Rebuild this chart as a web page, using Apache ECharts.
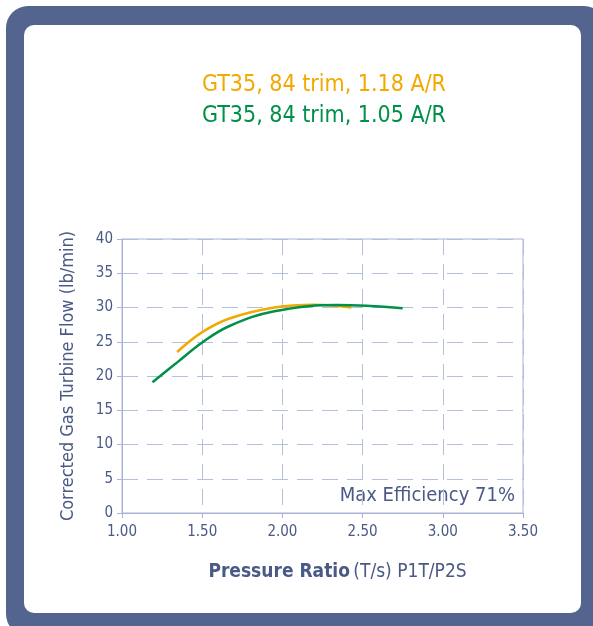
<!DOCTYPE html>
<html><head><meta charset="utf-8">
<script src="https://cdn.jsdelivr.net/npm/echarts@6/dist/echarts.min.js"></script>
<style>html,body{margin:0;padding:0;background:#fff}#c{width:593px;height:626px}</style>
</head><body><div id="c"></div>
<script>
const xTicks = [1.0, 1.5, 2.0, 2.5, 3.0, 3.5];
const yTicks = [0, 5, 10, 15, 20, 25, 30, 35, 40];
const seriesNames = ['GT35, 84 trim, 1.18 A/R', 'GT35, 84 trim, 1.05 A/R'];
const orangeX = [1.344, 1.5, 1.67, 1.95, 2.2, 2.43];
const orangeY = [23.5, 26.4, 28.4, 30.0, 30.4, 30.0];
const greenX = [1.19, 1.35, 1.5, 1.67, 1.95, 2.34, 2.75];
const greenY = [19.1, 22.1, 24.9, 27.3, 29.45, 30.35, 29.9];
const note = 'Max Efficiency 71%';

const FONT = '"DejaVu Sans Condensed","Liberation Sans Narrow","Roboto",sans-serif';
const TXT = '#4A5A85';
const chart = echarts.init(document.getElementById('c'), null, {renderer: 'canvas'});
const zip = (a, b) => a.map((v, i) => [v, b[i]]);
chart.setOption({
  animation: false,
  textStyle: {fontFamily: FONT},
  graphic: [
    {type: 'rect', z: -10, shape: {x: 6, y: 6, width: 600, height: 630, r: 22}, style: {fill: '#53648F'}},
    {type: 'rect', z: -9, shape: {x: 24, y: 25, width: 557, height: 588, r: 10}, style: {fill: '#ffffff'}},
    {type: 'text', left: 202, top: 74, style: {text: seriesNames[0], fill: '#F2A900', font: '23px ' + FONT}},
    {type: 'text', left: 202, top: 105, style: {text: seriesNames[1], fill: '#00904A', font: '23px ' + FONT}},
    {type: 'text', right: 78, top: 486, style: {text: note, fill: TXT, font: '20px ' + FONT}}
  ],
  grid: {left: 122, right: 70, top: 239, bottom: 113, show: true, borderColor: '#A9B4D6', borderWidth: 1},
  xAxis: {
    type: 'value', min: 1.0, max: 3.5, interval: 0.5,
    name: '{b|Pressure Ratio} {n|(T/s) P1T/P2S}', nameLocation: 'middle', nameGap: 50,
    nameTextStyle: {padding: [0, 0, 0, 30], rich: {b: {fontSize: 19, color: TXT, fontFamily: FONT, fontWeight: 'bold'}, n: {fontSize: 19, color: TXT, fontFamily: FONT}}},
    axisLine: {lineStyle: {color: '#A9B4D6', width: 1}},
    axisTick: {show: true, inside: false, length: 5, lineStyle: {color: '#A9B4D6'}},
    axisLabel: {color: TXT, fontSize: 15, fontFamily: FONT, margin: 12, formatter: v => v.toFixed(2)},
    splitLine: {show: true, lineStyle: {color: '#B4BEDD', type: [16, 9], width: 1}}
  },
  yAxis: {
    type: 'value', min: 0, max: 40, interval: 5,
    name: 'Corrected Gas Turbine Flow (lb/min)', nameLocation: 'middle', nameGap: 45,
    nameTextStyle: {fontSize: 18, color: TXT, fontFamily: FONT, padding: [0, 0, 0, 0]},
    axisLine: {show: true, lineStyle: {color: '#A9B4D6', width: 1}},
    axisTick: {show: true, inside: false, length: 5, lineStyle: {color: '#A9B4D6'}},
    axisLabel: {color: TXT, fontSize: 15, fontFamily: FONT, margin: 9},
    splitLine: {show: true, lineStyle: {color: '#B4BEDD', type: [16, 9], width: 1}}
  },
  series: [
    {name: seriesNames[0], type: 'line', data: zip(orangeX, orangeY), smooth: 0.4, showSymbol: false, lineStyle: {color: '#F2A900', width: 2.5}, z: 3},
    {name: seriesNames[1], type: 'line', data: zip(greenX, greenY), smooth: 0.4, showSymbol: false, lineStyle: {color: '#00904A', width: 2.5}, z: 4}
  ]
});
</script></body></html>
